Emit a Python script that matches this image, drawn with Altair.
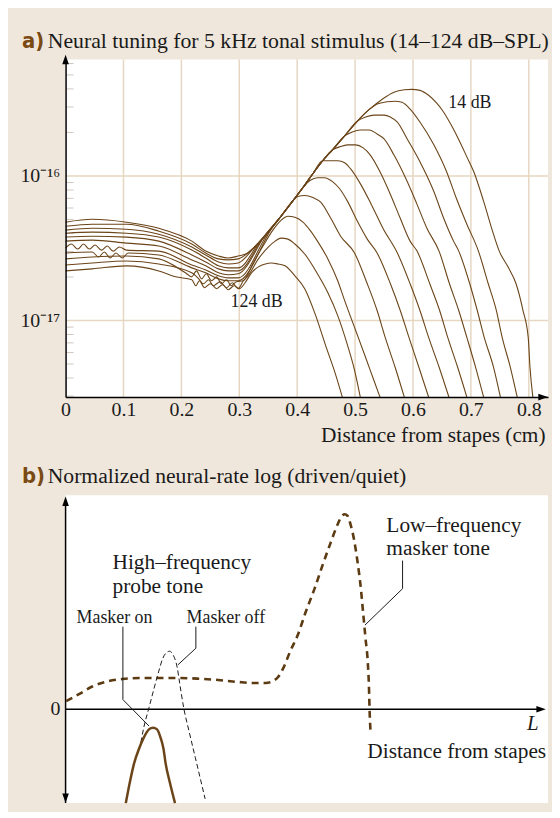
import altair as alt
import pandas as pd

# ---------------- panel a: neural tuning curves (x in cm, log10 of response) ----------------
LEVELS_DB = [14, 25, 36, 47, 58, 69, 80, 91, 102, 113, 124]

X_014 = [0.000, 0.046, 0.105, 0.161, 0.218, 0.242, 0.264, 0.281, 0.298, 0.315, 0.333, 0.350, 0.372, 0.393,
         0.410, 0.427, 0.444, 0.461, 0.482, 0.504, 0.525, 0.547, 0.567, 0.585, 0.598, 0.612, 0.627, 0.641,
         0.653, 0.667, 0.681, 0.693, 0.705, 0.722, 0.739, 0.749, 0.765, 0.778, 0.790, 0.799, 0.802, 0.807]
L_014 = [-16.320, -16.300, -16.320, -16.362, -16.451, -16.520, -16.554, -16.568, -16.554, -16.533, -16.465,
         -16.389, -16.279, -16.170, -16.080, -15.985, -15.895, -15.819, -15.723, -15.620, -15.538, -15.469,
         -15.421, -15.404, -15.401, -15.408, -15.442, -15.497, -15.559, -15.655, -15.765, -15.868, -15.971,
         -16.176, -16.403, -16.520, -16.636, -16.746, -16.931, -17.117, -17.322, -17.530]

X_025 = [0.000, 0.046, 0.105, 0.161, 0.218, 0.242, 0.264, 0.281, 0.298, 0.324, 0.333, 0.350, 0.372, 0.393,
         0.410, 0.427, 0.444, 0.461, 0.482, 0.504, 0.525, 0.538, 0.555, 0.569, 0.581, 0.595, 0.612, 0.636,
         0.658, 0.675, 0.693, 0.713, 0.730, 0.744, 0.754, 0.768, 0.780]
L_025 = [-16.348, -16.334, -16.334, -16.382, -16.471, -16.533, -16.574, -16.581, -16.574, -16.499, -16.465,
         -16.389, -16.279, -16.170, -16.080, -15.985, -15.895, -15.819, -15.723, -15.620, -15.538, -15.503,
         -15.487, -15.483, -15.490, -15.538, -15.627, -15.785, -15.971, -16.156, -16.334, -16.520, -16.746,
         -16.931, -17.117, -17.322, -17.530]

X_036 = [0.000, 0.046, 0.105, 0.161, 0.218, 0.242, 0.264, 0.281, 0.298, 0.329, 0.350, 0.372, 0.393, 0.410,
         0.427, 0.444, 0.461, 0.482, 0.504, 0.518, 0.533, 0.550, 0.561, 0.573, 0.590, 0.612, 0.636, 0.653,
         0.670, 0.679, 0.698, 0.711, 0.723, 0.739, 0.751]
L_036 = [-16.375, -16.362, -16.369, -16.403, -16.492, -16.547, -16.595, -16.609, -16.602, -16.478, -16.389,
         -16.279, -16.170, -16.080, -15.985, -15.895, -15.819, -15.723, -15.620, -15.593, -15.579, -15.579,
         -15.593, -15.627, -15.744, -15.902, -16.108, -16.293, -16.451, -16.520, -16.746, -16.931, -17.117,
         -17.322, -17.530]

X_047 = [0.000, 0.046, 0.105, 0.161, 0.218, 0.242, 0.264, 0.281, 0.298, 0.336, 0.350, 0.372, 0.393, 0.410,
         0.427, 0.444, 0.461, 0.482, 0.495, 0.509, 0.525, 0.538, 0.550, 0.567, 0.590, 0.607, 0.624, 0.645,
         0.663, 0.679, 0.693, 0.708, 0.722]
L_047 = [-16.396, -16.389, -16.396, -16.423, -16.513, -16.568, -16.622, -16.636, -16.636, -16.451, -16.389,
         -16.279, -16.170, -16.080, -15.985, -15.895, -15.819, -15.723, -15.696, -15.682, -15.682, -15.710,
         -15.744, -15.854, -16.039, -16.197, -16.362, -16.520, -16.746, -16.931, -17.117, -17.322, -17.530]

X_058 = [0.000, 0.046, 0.105, 0.161, 0.218, 0.242, 0.264, 0.281, 0.298, 0.341, 0.372, 0.393, 0.410, 0.427,
         0.444, 0.461, 0.473, 0.487, 0.501, 0.514, 0.526, 0.543, 0.561, 0.578, 0.595, 0.607, 0.629, 0.646,
         0.660, 0.677, 0.693]
L_058 = [-16.423, -16.417, -16.423, -16.451, -16.547, -16.595, -16.643, -16.657, -16.657, -16.427, -16.279,
         -16.170, -16.080, -15.985, -15.895, -15.819, -15.799, -15.785, -15.785, -15.806, -15.854, -15.971,
         -16.128, -16.293, -16.451, -16.520, -16.746, -16.931, -17.117, -17.322, -17.530]

X_069 = [0.000, 0.046, 0.105, 0.161, 0.218, 0.242, 0.264, 0.281, 0.298, 0.346, 0.372, 0.393, 0.410, 0.427,
         0.444, 0.458, 0.470, 0.482, 0.492, 0.509, 0.528, 0.549, 0.573, 0.595, 0.612, 0.627, 0.645, 0.662]
L_069 = [-16.451, -16.444, -16.465, -16.485, -16.581, -16.622, -16.670, -16.684, -16.677, -16.403, -16.279,
         -16.170, -16.080, -15.985, -15.895, -15.895, -15.895, -15.909, -15.950, -16.053, -16.197, -16.369,
         -16.533, -16.746, -16.931, -17.117, -17.322, -17.530]

X_080 = [0.000, 0.010, 0.021, 0.031, 0.041, 0.051, 0.062, 0.072, 0.082, 0.093, 0.105, 0.161, 0.218, 0.242,
         0.264, 0.281, 0.298, 0.353, 0.372, 0.393, 0.410, 0.422, 0.435, 0.447, 0.461, 0.473, 0.487, 0.504,
         0.521, 0.538, 0.561, 0.578, 0.593, 0.610, 0.627]
L_080 = [-16.499, -16.471, -16.506, -16.471, -16.506, -16.478, -16.513, -16.485, -16.520, -16.492, -16.513,
         -16.520, -16.616, -16.650, -16.691, -16.705, -16.705, -16.372, -16.279, -16.170, -16.080, -16.032,
         -16.012, -16.012, -16.039, -16.087, -16.176, -16.314, -16.437, -16.533, -16.746, -16.931, -17.117,
         -17.322, -17.530]

X_091 = [0.000, 0.046, 0.057, 0.067, 0.077, 0.087, 0.098, 0.108, 0.161, 0.218, 0.242, 0.264, 0.281, 0.298,
         0.360, 0.372, 0.393, 0.401, 0.413, 0.427, 0.441, 0.458, 0.475, 0.499, 0.521, 0.538, 0.552, 0.569,
         0.585]
L_091 = [-16.533, -16.526, -16.561, -16.526, -16.568, -16.533, -16.568, -16.533, -16.547, -16.636, -16.670,
         -16.712, -16.725, -16.725, -16.338, -16.279, -16.170, -16.142, -16.135, -16.149, -16.183, -16.293,
         -16.417, -16.533, -16.746, -16.931, -17.117, -17.322, -17.530]

X_102 = [0.000, 0.046, 0.105, 0.161, 0.207, 0.218, 0.226, 0.235, 0.243, 0.252, 0.261, 0.269, 0.278, 0.286,
         0.295, 0.307, 0.324, 0.341, 0.358, 0.372, 0.384, 0.396, 0.410, 0.422, 0.435, 0.453, 0.470, 0.482,
         0.501, 0.518, 0.531, 0.543]
L_102 = [-16.574, -16.561, -16.554, -16.574, -16.670, -16.698, -16.657, -16.712, -16.677, -16.725, -16.698,
         -16.746, -16.718, -16.760, -16.732, -16.725, -16.602, -16.485, -16.375, -16.307, -16.279, -16.286,
         -16.320, -16.375, -16.451, -16.574, -16.725, -16.863, -17.069, -17.254, -17.398, -17.530]

X_113 = [0.000, 0.046, 0.105, 0.161, 0.218, 0.230, 0.238, 0.247, 0.255, 0.267, 0.278, 0.288, 0.298, 0.307,
         0.315, 0.333, 0.350, 0.362, 0.372, 0.384, 0.396, 0.413, 0.435, 0.453, 0.470, 0.487, 0.499, 0.509]
L_113 = [-16.616, -16.602, -16.588, -16.609, -16.670, -16.712, -16.746, -16.718, -16.760, -16.732, -16.773,
         -16.739, -16.780, -16.725, -16.691, -16.574, -16.492, -16.451, -16.430, -16.437, -16.471, -16.540,
         -16.677, -16.808, -16.966, -17.172, -17.343, -17.530]

X_124 = [0.000, 0.046, 0.105, 0.161, 0.190, 0.218, 0.225, 0.231, 0.240, 0.250, 0.261, 0.271, 0.281, 0.291,
         0.300, 0.310, 0.321, 0.333, 0.345, 0.355, 0.367, 0.379, 0.396, 0.413, 0.432, 0.449, 0.465, 0.478]
L_124 = [-16.657, -16.643, -16.622, -16.657, -16.698, -16.718, -16.760, -16.725, -16.773, -16.746, -16.780,
         -16.753, -16.787, -16.760, -16.780, -16.739, -16.670, -16.629, -16.609, -16.602, -16.609, -16.622,
         -16.691, -16.780, -16.966, -17.172, -17.357, -17.530]

ALL_X = [X_014, X_025, X_036, X_047, X_058, X_069, X_080, X_091, X_102, X_113, X_124]
ALL_L = [L_014, L_025, L_036, L_047, L_058, L_069, L_080, L_091, L_102, L_113, L_124]

X_TICKS = [0, 0.1, 0.2, 0.3, 0.4, 0.5, 0.6, 0.7, 0.8]
GRID_X = [0.1, 0.2, 0.3, 0.4, 0.5, 0.6, 0.7, 0.8]
Y_MAJOR = [1e-17, 1e-16]
Y_MINOR = [3e-18, 4e-18, 5e-18, 6e-18, 7e-18, 8e-18, 9e-18,
           2e-17, 3e-17, 4e-17, 5e-17, 6e-17, 7e-17, 8e-17, 9e-17,
           2e-16, 3e-16, 4e-16, 5e-16, 6e-16]
LABEL_A = ["14 dB", "124 dB"]
LABEL_A_X = [0.661, 0.285]
LABEL_A_LOG = [-15.531, -16.904]

# ---------------- panel b: schematic (arbitrary units) ----------------
MASK_X = [0.001, 0.024, 0.047, 0.075, 0.098, 0.127, 0.161, 0.195, 0.230, 0.264, 0.298, 0.324, 0.346, 0.358,
          0.367, 0.376, 0.388, 0.401, 0.415, 0.430, 0.444, 0.458, 0.470, 0.477, 0.482, 0.487, 0.492, 0.498,
          0.504, 0.510, 0.514, 0.518, 0.522, 0.524, 0.525, 0.527]
MASK_Y = [0.082, 0.155, 0.232, 0.285, 0.305, 0.315, 0.315, 0.315, 0.308, 0.295, 0.275, 0.265, 0.265, 0.285,
          0.325, 0.415, 0.585, 0.748, 0.985, 1.215, 1.455, 1.682, 1.865, 1.945, 1.965, 1.948, 1.865, 1.715,
          1.495, 1.215, 0.965, 0.715, 0.465, 0.215, -0.005, -0.252]
OFF_X = [0.130, 0.135, 0.144, 0.153, 0.161, 0.168, 0.175, 0.180, 0.185, 0.193, 0.197, 0.204, 0.213, 0.224, 0.241]
OFF_Y = [-0.335, -0.185, 0.015, 0.215, 0.385, 0.515, 0.575, 0.585, 0.555, 0.415, 0.265, 0.015, -0.215, -0.485,
         -0.902]
ON_X = [0.104, 0.111, 0.118, 0.127, 0.135, 0.144, 0.151, 0.158, 0.164, 0.169, 0.173, 0.180, 0.189]
ON_Y = [-0.945, -0.735, -0.552, -0.395, -0.285, -0.202, -0.185, -0.202, -0.285, -0.395, -0.552, -0.735, -0.945]
LEAD_ON_X = [0.099, 0.099, 0.144]
LEAD_ON_Y = [0.832, 0.098, -0.168]
LEAD_OFF_X = [0.225, 0.225, 0.194]
LEAD_OFF_Y = [0.832, 0.615, 0.448]
LEAD_LOW_X = [0.582, 0.582, 0.517]
LEAD_LOW_Y = [1.498, 1.215, 0.848]
TEXT_B_BIG = ["High–frequency", "probe tone", "Low–frequency", "masker tone"]
TEXT_B_BIG_X = [0.081, 0.081, 0.554, 0.554]
TEXT_B_BIG_Y = [1.410, 1.170, 1.790, 1.555]
TEXT_B_SMALL = ["Masker on", "Masker off"]
TEXT_B_SMALL_X = [0.019, 0.209]
TEXT_B_SMALL_Y = [0.865, 0.865]

# ---------------- layout constants ----------------
X_MAX = 0.8332
LOG_TOP = -15.195
LOG_BOT = -17.53
B_BOT = -0.945
B_TOP = 2.155

BG = "#efe7dc"
GRID = "#e6d7c2"
MINOR = "#cfc7bd"
BROWN = "#6b4519"
DBROWN = "#5c3a12"
TBROWN = "#7a4a14"
INK = "#1a1a1a"
SERIF = "Liberation Serif, Times New Roman, serif"
SANS = "Liberation Sans Narrow, DejaVu Sans Condensed, Roboto, sans-serif"

UP = "M-0.7,1L0,-1L0.7,1Z"
DOWN = "M-0.7,-1L0,1L0.7,-1Z"
RIGHT = "M-1,-0.7L1,0L-1,0.7Z"

XS = alt.Scale(domain=[0, X_MAX], nice=False, zero=False)
YA = alt.Scale(type="log", domain=[10 ** LOG_BOT, 10 ** LOG_TOP], range=[340, 0], nice=False)
YB = alt.Scale(domain=[B_BOT, B_TOP], range=[749, 439], nice=False, zero=False)

AX_X = alt.Axis(values=X_TICKS, format=".1~f", labelFlush=False, ticks=False, tickSize=0, grid=False,
                domainColor="black", domainWidth=1.5, labelFont=SERIF, labelFontSize=20, labelColor=INK,
                labelPadding=3, offset=-409, title="Distance from stapes (cm)", titleFont=SERIF,
                titleFontSize=21.5, titleFontWeight="normal", titleColor=INK, titleAlign="right",
                titleX=483, titleY=45, titleBaseline="alphabetic", zindex=2)
AX_YA = alt.Axis(values=Y_MAJOR, labelExpr="datum.value < 5e-17 ? '10⁻¹⁷' : '10⁻¹⁶'", ticks=False,
                 tickSize=0, grid=False, domainColor="black", domainWidth=1.5, labelFont=SERIF,
                 labelFontSize=20, labelColor=INK, labelPadding=6, title=None, zindex=2)


def ex(f):
    return alt.X(f + ":Q", scale=XS, axis=AX_X)


def eya(f):
    return alt.Y(f + ":Q", scale=YA, axis=AX_YA)


def eyb(f):
    return alt.Y(f + ":Q", scale=YB, axis=None)


# ---------------- panel a layers ----------------
rows = []
for lvl, xs, ls in zip(LEVELS_DB, ALL_X, ALL_L):
    for i, (xv, lv) in enumerate(zip(xs, ls)):
        rows.append({"level": lvl, "i": i, "x": xv, "amp": 10 ** lv})
df_curves = pd.DataFrame(rows)

white_a = alt.Chart(pd.DataFrame({"x": [0.0], "x2": [X_MAX], "y": [10 ** LOG_BOT], "y2": [10 ** LOG_TOP]})) \
    .mark_rect(color="white").encode(x=ex("x"), x2=alt.X2("x2"), y=eya("y"), y2=alt.Y2("y2"))

vgrid = alt.Chart(pd.DataFrame({"x": GRID_X, "y": [10 ** LOG_BOT] * len(GRID_X),
                                "y2": [10 ** LOG_TOP] * len(GRID_X)})) \
    .mark_rule(color=GRID, strokeWidth=1.5).encode(x=ex("x"), y=eya("y"), y2=alt.Y2("y2"))

hgrid = alt.Chart(pd.DataFrame({"y": Y_MAJOR, "x": [0.0] * 2, "x2": [X_MAX] * 2})) \
    .mark_rule(color=GRID, strokeWidth=1.5).encode(x=ex("x"), x2=alt.X2("x2"), y=eya("y"))

minor = alt.Chart(pd.DataFrame({"y": Y_MINOR})).mark_rule(color=MINOR, strokeWidth=1) \
    .encode(x=alt.value(1), x2=alt.value(8), y=eya("y"))

curves = alt.Chart(df_curves).mark_line(color=BROWN, strokeWidth=1.1, interpolate="monotone") \
    .encode(x=ex("x"), y=eya("amp"), detail="level:N", order="i:Q")

labels_a = alt.Chart(pd.DataFrame({"t": LABEL_A, "x": LABEL_A_X, "amp": [10 ** v for v in LABEL_A_LOG]})) \
    .mark_text(align="left", baseline="alphabetic", font=SERIF, fontSize=18, color=INK) \
    .encode(x=ex("x"), y=eya("amp"), text="t:N")

arrow_up_a = alt.Chart(pd.DataFrame({"x": [0.0], "y": [10 ** LOG_TOP]})) \
    .mark_point(shape=UP, filled=True, size=90, color="black", opacity=1, strokeWidth=0) \
    .encode(x=ex("x"), y=eya("y"))
arrow_right_a = alt.Chart(pd.DataFrame({"x": [0.8246], "y": [10 ** LOG_BOT]})) \
    .mark_point(shape=RIGHT, filled=True, size=90, color="black", opacity=1, strokeWidth=0) \
    .encode(x=ex("x"), y=eya("y"))

title_a_tag = alt.Chart(pd.DataFrame({"t": ["a)"]})).mark_text(
    align="left", baseline="alphabetic", font=SANS, fontSize=22, fontWeight="bold", color=TBROWN
).encode(x=alt.value(-44), y=alt.value(-12), text="t:N")
title_a_txt = alt.Chart(pd.DataFrame({"t": ["Neural tuning for 5 kHz tonal stimulus (14–124 dB–SPL)"]})).mark_text(
    align="left", baseline="alphabetic", font=SERIF, fontSize=21.9, color=INK
).encode(x=alt.value(-18), y=alt.value(-12), text="t:N")

panel_a = alt.layer(white_a, vgrid, hgrid, minor, curves, labels_a, arrow_up_a, arrow_right_a,
                    title_a_tag, title_a_txt)

# ---------------- panel b layers ----------------
white_b = alt.Chart(pd.DataFrame({"x": [0.0], "x2": [X_MAX], "y": [B_BOT], "y2": [B_TOP]})) \
    .mark_rect(color="white").encode(x=ex("x"), x2=alt.X2("x2"), y=eyb("y"), y2=alt.Y2("y2"))

yaxis_b = alt.Chart(pd.DataFrame({"x": [0.0], "y": [B_BOT], "y2": [2.07]})) \
    .mark_rule(color="black", strokeWidth=1.5).encode(x=ex("x"), y=eyb("y"), y2=alt.Y2("y2"))
xaxis_b = alt.Chart(pd.DataFrame({"x": [0.0], "x2": [0.82], "y": [0.0]})) \
    .mark_rule(color="black", strokeWidth=1.5).encode(x=ex("x"), x2=alt.X2("x2"), y=eyb("y"))

masker = alt.Chart(pd.DataFrame({"x": MASK_X, "y": MASK_Y, "i": range(len(MASK_X))})) \
    .mark_line(color=DBROWN, strokeWidth=2.6, strokeDash=[7, 5], interpolate="monotone") \
    .encode(x=ex("x"), y=eyb("y"), order="i:Q")
off = alt.Chart(pd.DataFrame({"x": OFF_X, "y": OFF_Y, "i": range(len(OFF_X))})) \
    .mark_line(color=INK, strokeWidth=1, strokeDash=[5, 3], interpolate="monotone") \
    .encode(x=ex("x"), y=eyb("y"), order="i:Q")
on = alt.Chart(pd.DataFrame({"x": ON_X, "y": ON_Y, "i": range(len(ON_X))})) \
    .mark_line(color=BROWN, strokeWidth=2.5, interpolate="monotone") \
    .encode(x=ex("x"), y=eyb("y"), order="i:Q")

lead_rows = []
for name, xs, ys in [("on", LEAD_ON_X, LEAD_ON_Y), ("off", LEAD_OFF_X, LEAD_OFF_Y),
                     ("low", LEAD_LOW_X, LEAD_LOW_Y)]:
    for i, (xv, yv) in enumerate(zip(xs, ys)):
        lead_rows.append({"g": name, "i": i, "x": xv, "y": yv})
leaders = alt.Chart(pd.DataFrame(lead_rows)).mark_line(color=INK, strokeWidth=1) \
    .encode(x=ex("x"), y=eyb("y"), detail="g:N", order="i:Q")

text_big = alt.Chart(pd.DataFrame({"t": TEXT_B_BIG, "x": TEXT_B_BIG_X, "y": TEXT_B_BIG_Y})) \
    .mark_text(align="left", baseline="alphabetic", font=SERIF, fontSize=21.5, color=INK) \
    .encode(x=ex("x"), y=eyb("y"), text="t:N")
text_small = alt.Chart(pd.DataFrame({"t": TEXT_B_SMALL, "x": TEXT_B_SMALL_X, "y": TEXT_B_SMALL_Y})) \
    .mark_text(align="left", baseline="alphabetic", font=SERIF, fontSize=18, color=INK) \
    .encode(x=ex("x"), y=eyb("y"), text="t:N")
text_dist = alt.Chart(pd.DataFrame({"t": ["Distance from stapes"], "x": [0.830], "y": [-0.495]})) \
    .mark_text(align="right", baseline="alphabetic", font=SERIF, fontSize=21.5, color=INK) \
    .encode(x=ex("x"), y=eyb("y"), text="t:N")
text_L = alt.Chart(pd.DataFrame({"t": ["L"], "x": [0.797], "y": [-0.205]})) \
    .mark_text(align="left", baseline="alphabetic", font=SERIF, fontSize=21, fontStyle="italic", color=INK) \
    .encode(x=ex("x"), y=eyb("y"), text="t:N")
text_zero = alt.Chart(pd.DataFrame({"t": ["0"], "x": [-0.009], "y": [0.0]})) \
    .mark_text(align="right", baseline="middle", font=SERIF, fontSize=20, color=INK) \
    .encode(x=ex("x"), y=eyb("y"), text="t:N")

arrow_up_b = alt.Chart(pd.DataFrame({"x": [0.0], "y": [2.095]})) \
    .mark_point(shape=UP, filled=True, size=90, color="black", opacity=1, strokeWidth=0) \
    .encode(x=ex("x"), y=eyb("y"))
arrow_down_b = alt.Chart(pd.DataFrame({"x": [0.0], "y": [-0.895]})) \
    .mark_point(shape=DOWN, filled=True, size=90, color="black", opacity=1, strokeWidth=0) \
    .encode(x=ex("x"), y=eyb("y"))
arrow_right_b = alt.Chart(pd.DataFrame({"x": [0.8212], "y": [0.0]})) \
    .mark_point(shape=RIGHT, filled=True, size=90, color="black", opacity=1, strokeWidth=0) \
    .encode(x=ex("x"), y=eyb("y"))

title_b_tag = alt.Chart(pd.DataFrame({"t": ["b)"]})).mark_text(
    align="left", baseline="alphabetic", font=SANS, fontSize=22, fontWeight="bold", color=TBROWN
).encode(x=alt.value(-44), y=alt.value(427), text="t:N")
title_b_txt = alt.Chart(pd.DataFrame({"t": ["Normalized neural-rate log (driven/quiet)"]})).mark_text(
    align="left", baseline="alphabetic", font=SERIF, fontSize=21.8, color=INK
).encode(x=alt.value(-18), y=alt.value(427), text="t:N")

panel_b = alt.layer(white_b, yaxis_b, xaxis_b, masker, off, on, leaders, text_big, text_small, text_dist,
                    text_L, text_zero, arrow_up_b, arrow_down_b, arrow_right_b, title_b_tag, title_b_txt)

chart = alt.layer(panel_a, panel_b).resolve_scale(y="independent").properties(
    width=486, height=749,
    padding={"left": 58, "top": 49, "right": 4, "bottom": 6},
    autosize=alt.AutoSizeParams(type="none"),
).configure(background=BG).configure_view(strokeWidth=0)

chart.save("out.html", embed_options={"renderer": "svg", "actions": False})
